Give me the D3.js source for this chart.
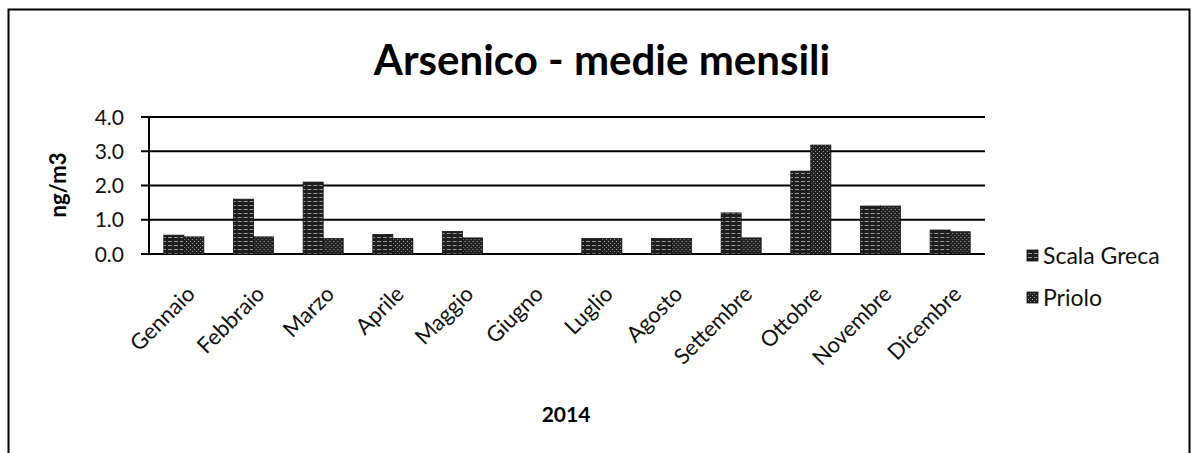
<!DOCTYPE html>
<html>
<head>
<meta charset="utf-8">
<script src="https://cdn.jsdelivr.net/npm/d3@7"></script>
<style>
  body { margin: 0; background: #fff; }
  svg { display: block; font-family: Lato, "Open Sans", sans-serif; }
</style>
</head>
<body>
<svg id="chart" width="1192" height="453"></svg>
<script>
const months = ["Gennaio", "Febbraio", "Marzo", "Aprile", "Maggio", "Giugno",
                "Luglio", "Agosto", "Settembre", "Ottobre", "Novembre", "Dicembre"];
const series = ["Scala Greca", "Priolo"];
const scalaGreca = [0.55, 1.6, 2.1, 0.57, 0.66, null, 0.45, 0.45, 1.2, 2.42, 1.4, 0.7];
const priolo     = [0.5, 0.5, 0.45, 0.45, 0.47, null, 0.45, 0.45, 0.47, 3.18, 1.4, 0.65];
const yTicks = [0, 1, 2, 3, 4];

const svg = d3.select("#chart");
const plot = { left: 149, right: 985, top: 117, bottom: 254 };

// halftone-ish fills, like the scanned print
const defs = svg.append("defs");
const p1 = defs.append("pattern").attr("id", "pat-sg")
    .attr("patternUnits", "userSpaceOnUse").attr("width", 6).attr("height", 4);
p1.append("rect").attr("width", 6).attr("height", 4).attr("fill", "#1e1e1e");
p1.append("rect").attr("x", 1).attr("y", 1).attr("width", 4).attr("height", 1).attr("fill", "#9a9a9a");
const p2 = defs.append("pattern").attr("id", "pat-pr")
    .attr("patternUnits", "userSpaceOnUse").attr("width", 4).attr("height", 4);
p2.append("rect").attr("width", 4).attr("height", 4).attr("fill", "#222");
p2.append("rect").attr("x", 1).attr("y", 1).attr("width", 1).attr("height", 1).attr("fill", "#aaa");
p2.append("rect").attr("x", 3).attr("y", 3).attr("width", 1).attr("height", 1).attr("fill", "#888");
const fills = { "Scala Greca": "url(#pat-sg)", "Priolo": "url(#pat-pr)" };

// outer frame
svg.append("rect")
    .attr("x", 8.5).attr("y", 9.5).attr("width", 1181).attr("height", 460)
    .attr("fill", "none").attr("stroke", "#000").attr("stroke-width", 2);

const x0 = d3.scaleBand().domain(months).range([plot.left, plot.right]).padding(0);
const x1 = d3.scaleBand().domain(series).range([0, x0.bandwidth()]).paddingInner(0).paddingOuter(0.74);
const y = d3.scaleLinear().domain([0, 4]).range([plot.bottom, plot.top]);

// gridlines
svg.append("g").selectAll("line").data(yTicks).join("line")
    .attr("x1", plot.left - 8).attr("x2", plot.right)
    .attr("y1", d => y(d)).attr("y2", d => y(d))
    .attr("stroke", "#000").attr("stroke-width", 2);

// y axis line
svg.append("line")
    .attr("x1", plot.left).attr("x2", plot.left)
    .attr("y1", plot.top).attr("y2", plot.bottom)
    .attr("stroke", "#000").attr("stroke-width", 2);

// y tick labels
svg.append("g").selectAll("text").data(yTicks).join("text")
    .attr("x", 124).attr("y", d => y(d))
    .attr("dy", "0.36em").attr("text-anchor", "end")
    .attr("font-size", 21).attr("fill", "#111")
    .text(d => d3.format(".1f")(d));

// bars
const rows = months.map((m, i) => ({ month: m, values: [
    { key: "Scala Greca", v: scalaGreca[i] }, { key: "Priolo", v: priolo[i] }] }));
svg.append("g").selectAll("g").data(rows).join("g")
    .attr("transform", d => `translate(${x0(d.month)},0)`)
  .selectAll("rect").data(d => d.values.filter(e => e.v != null)).join("rect")
    .attr("x", d => x1(d.key)).attr("width", x1.bandwidth())
    .attr("y", d => y(d.v)).attr("height", d => y(0) - y(d.v))
    .attr("fill", d => fills[d.key]).attr("stroke", "#111").attr("stroke-width", 0.8);

// x labels
svg.append("g").selectAll("text").data(months).join("text")
    .attr("transform", d => `translate(${x0(d) + x0.bandwidth() / 2 + 7},${plot.bottom + 36}) rotate(-45)`)
    .attr("text-anchor", "end").attr("dy", "0.35em")
    .attr("font-size", 22).attr("fill", "#111")
    .text(d => d);

// titles
svg.append("text").attr("x", 602).attr("y", 60).attr("dy", "0.35em")
    .attr("text-anchor", "middle").attr("font-size", 42).attr("font-weight", "bold")
    .text("Arsenico - medie mensili");
svg.append("text").attr("transform", "translate(58,185) rotate(-90)")
    .attr("dy", "0.35em").attr("text-anchor", "middle")
    .attr("font-size", 22).attr("font-weight", "bold")
    .text("ng/m3");
svg.append("text").attr("x", 566).attr("y", 415).attr("dy", "0.35em")
    .attr("text-anchor", "middle").attr("font-size", 21).attr("font-weight", "bold")
    .text("2014");

// legend
const legend = svg.append("g").selectAll("g").data(series).join("g")
    .attr("transform", (d, i) => `translate(1027,${256 + i * 42})`);
legend.append("rect").attr("x", 0).attr("y", -6).attr("width", 11).attr("height", 11)
    .attr("fill", d => fills[d]).attr("stroke", "#111").attr("stroke-width", 0.8);
legend.append("text").attr("x", 16).attr("dy", "0.35em")
    .attr("font-size", 23).attr("fill", "#111")
    .text(d => d);
</script>
</body>
</html>
